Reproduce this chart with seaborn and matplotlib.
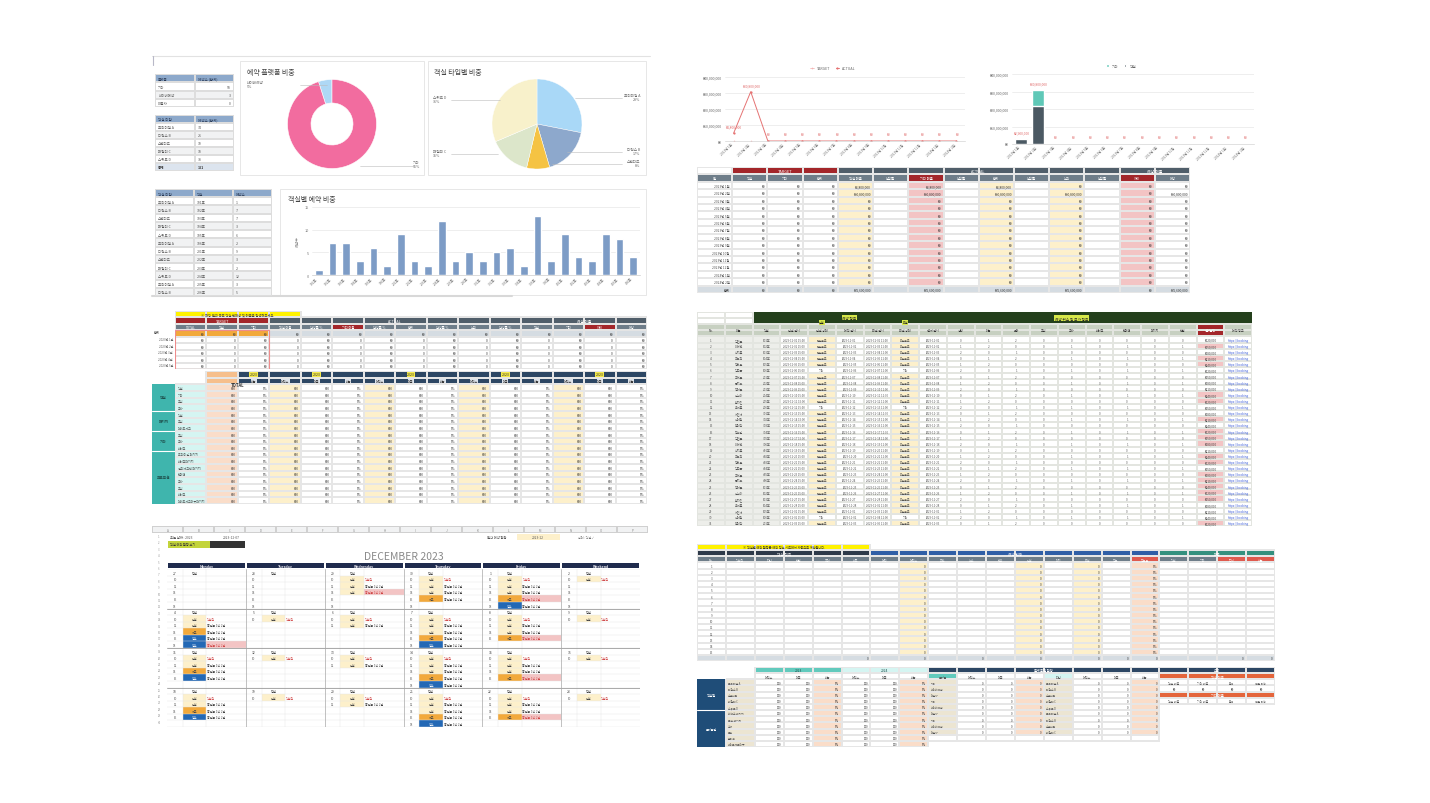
import numpy as np
import matplotlib
matplotlib.use('Agg')
import matplotlib.pyplot as plt
import seaborn as sns
from matplotlib.colors import ListedColormap, to_rgba
from matplotlib.patches import Rectangle

sns.set_theme(style='white')
plt.rcParams['font.family'] = ['Noto Sans CJK KR', 'DejaVu Sans']
plt.rcParams['axes.unicode_minus'] = False

# ---------------- data ----------------
platform_names = ['기타', '네이버예약', '야놀자']
platform_counts = [58, 3, 0]
room_types = ['프리미엄 A', '디럭스 B', '스탠다드', '패밀리 C', '스위트 D']
room_type_counts = [34, 21, 10, 18, 38]
room_names = ['101호', '102호', '103호', '104호', '105호', '106호', '201호', '202호',
              '203호', '204호', '205호', '206호', '301호', '302호', '303호', '304호',
              '305호', '306호', '401호', '402호', '403호', '404호', '405호', '406호']
room_bookings = [1, 7, 7, 3, 6, 2, 9, 3, 2, 12, 3, 5, 3, 5, 6, 2, 13, 3, 9, 4, 3, 9, 8, 4]
months = ['2023년 1월', '2023년 2월', '2023년 3월', '2023년 4월', '2023년 5월', '2023년 6월',
          '2023년 7월', '2023년 8월', '2023년 9월', '2023년 10월', '2023년 11월', '2023년 12월',
          '2024년 1월', '2024년 2월']
target_sales = [0, 0, 0, 0, 0, 0, 0, 0, 0, 0, 0, 0, 0, 0]
actual_sales = [4800000, 30800000, 0, 0, 0, 0, 0, 0, 0, 0, 0, 0, 0, 0]
room_sales = [2900000, 22000000, 0, 0, 0, 0, 0, 0, 0, 0, 0, 0, 0, 0]
other_sales = [0, 8800000, 0, 0, 0, 0, 0, 0, 0, 0, 0, 0, 0, 0]
summary_cols = ['월', '객실', '기타', '합계', '객실 매출', '달성률', '기타 매출', '달성률',
                '합계', '달성률', '누적', '달성률', '차이', '예상']
day_names = ['Monday', 'Tuesday', 'Wednesday', 'Thursday', 'Friday', 'Weekend']
cal_dates = [[27, 28, 29, 30, 1, 2], [4, 5, 6, 7, 8, 9], [11, 12, 13, 14, 15, 16], [18, 19, 20, 21, 22, 23]]
cal_weeks = [['', '', 'ccC', 'ccco', 'cccOb', 'c'],
             ['ccobB', 'c', 'cc', 'cccob', 'cccO', 'c'],
             ['ccob', 'c', 'cc', 'cccob', 'cccO', 'c'],
             ['ccob', 'c', 'cc', 'cccob', 'cccO', 'c']]
guest_names = ['김민준', '이서연', '박지훈', '최유진', '정하은', '강도윤', '조서준', '윤지우',
               '장예준', '임수아', '한지민', '오세훈', '서민재', '신예린', '권태양', '황보람']
pink_rows = [1, 3, 4, 9, 10, 13, 15, 16, 17, 19, 20, 22, 23, 24, 25, 26, 30]
other_rows = [5, 11, 29]

W, H = 1430, 804
fig = plt.figure(figsize=(W / 100, H / 100), dpi=100)
fig.patch.set_facecolor('white')

PAL = {
    'w': '#FFFFFF', 'g1': '#F1F2F3', 'g2': '#D5DCE2', 'hb': '#8DA9CB', 'hbl': '#DCE4EE',
    'red': '#A3262A', 'sl': '#505E6A', 'sl2': '#6E7D89', 'cr': '#FDF0CB', 'pk': '#F3C4C4',
    'pe': '#FADDC9', 'or': '#F2A93B', 'yl': '#FFF200', 'nv': '#2D4764', 'nv2': '#1F2B4D',
    'tl': '#3FB5AD', 'cy': '#D5F5F2', 'to': '#F6BF8C', 'dg': '#24401C', 'gg': '#C7D0C1',
    'lg': '#EDEEEA', 'bl': '#2368B5', 'dk': '#2E3A4A', 'bb': '#2F5EA6', 'tg': '#34907E',
    'rr': '#DF5A4E', 'bg': '#ECE5D2', 'tl2': '#62CABD', 'nv3': '#1F4D78', 'oo': '#E4653B',
    'yg': '#C3D43B', 'bk': '#333333',
}
KEYS = list(PAL.keys())
CMAP = ListedColormap([PAL[k] for k in KEYS])


def rect(x0, y0, x1, y1):
    return [x0 / W, 1 - y1 / H, (x1 - x0) / W, (y1 - y0) / H]


def pxax(x0, y0, x1, y1, z=2):
    ax = fig.add_axes(rect(x0, y0, x1, y1), zorder=z)
    ax.set_xlim(x0, x1)
    ax.set_ylim(-y1, -y0)
    ax.axis('off')
    return ax


bg = pxax(0, 0, W, H, z=0)
top = pxax(0, 0, W, H, z=20)


def T(x, y, s, fs=3, color='#555', ha='left', va='center', **kw):
    top.text(x, -y, s, fontsize=fs, color=color, ha=ha, va=va, **kw)


def box(x0, y0, x1, y1, fc='white', ec='#E3E3E3', lw=0.6):
    bg.add_patch(Rectangle((x0, -y1), x1 - x0, y1 - y0, fc=fc, ec=ec, lw=lw))


def grid(x0, y0, x1, y1, rows, lw=0.35, lc='#DDDDDD', z=2):
    M = np.array([[np.nan if k is None else KEYS.index(k) for k in r] for r in rows], dtype=float)
    ax = fig.add_axes(rect(x0, y0, x1, y1), zorder=z)
    sns.heatmap(M, ax=ax, cmap=CMAP, vmin=-0.5, vmax=len(KEYS) - 0.5, cbar=False,
                linewidths=lw, linecolor=lc, xticklabels=False, yticklabels=False)
    if lw > 0:
        mesh = ax.collections[0]
        ecs = np.tile(np.array(to_rgba(lc)), (M.size, 1))
        ecs[np.isnan(M).ravel()] = (0, 0, 0, 0)
        mesh.set_edgecolor(ecs)
    ax.set_facecolor('none')
    ax.patch.set_alpha(0)
    return ax


def ct(ax, r, c, s, fs=2.5, color='#555', ha='center', span=1, **kw):
    if ha == 'center':
        x = c + span / 2
    elif ha == 'left':
        x = c + 0.08
    else:
        x = c + span - 0.08
    ax.text(x, r + 0.55, s, ha=ha, va='center', fontsize=fs, color=color, **kw)


def won(v):
    return '₩{:,.0f}'.format(v)


# ======================= TOP LEFT DASHBOARD =======================
bg.plot([152, 650], [-57, -57], color='#E2E2E2', lw=0.8)
bg.plot([153, 153], [-57, -66], color='#B8B8C8', lw=0.8)
bg.plot([152, 512], [-297, -297], color='#D8D8D8', lw=1.5)

t1 = grid(155, 75, 234, 108, [['hb', 'hb'], ['w', 'w'], ['g1', 'g1'], ['w', 'w']])
ct(t1, 0, 0, '플랫폼', color='#2A3A55', ha='left')
ct(t1, 0, 1, '예약수 (합계)', color='#2A3A55', ha='left')
for i, (n, v) in enumerate(zip(platform_names, platform_counts)):
    ct(t1, i + 1, 0, n, ha='left')
    ct(t1, i + 1, 1, str(v), ha='right')

rows2 = [['hb', 'hb']] + [['w', 'w'] if i % 2 == 0 else ['g1', 'g1'] for i in range(5)] + [['hbl', 'hbl']]
t2 = grid(155, 116, 234, 172, rows2)
ct(t2, 0, 0, '객실 타입', color='#2A3A55', ha='left')
ct(t2, 0, 1, '예약수 (합계)', color='#2A3A55', ha='left')
for i, (n, v) in enumerate(zip(room_types, room_type_counts)):
    ct(t2, i + 1, 0, n, ha='left')
    ct(t2, i + 1, 1, str(v), ha='left')
ct(t2, 6, 0, '총계', ha='left', color='#333', fontweight='bold')
ct(t2, 6, 1, str(sum(room_type_counts)), ha='left', color='#333', fontweight='bold')

rows3 = [['hb'] * 3] + [['w'] * 3 if i % 2 == 0 else ['g1'] * 3 for i in range(12)]
t3 = grid(155, 190, 272, 297, rows3)
for j, s in enumerate(['객실 타입', '객실', '예약수']):
    ct(t3, 0, j, s, color='#2A3A55', ha='left')
for i in range(12):
    ct(t3, i + 1, 0, room_types[i % 5], ha='left')
    ct(t3, i + 1, 1, room_names[i], ha='left')
    ct(t3, i + 1, 2, str(room_bookings[i]), ha='left')

# donut
box(240, 62, 424, 176)
T(247, 73, '예약 플랫폼 비중', fs=5, color='#444')
dn = pxax(240, 62, 424, 176, z=3)
dn.pie(platform_counts[:2][::-1], colors=['#AED8F5', '#F26C9F'], startangle=90, counterclock=True,
       center=(332, -125), radius=44.5, wedgeprops=dict(width=23.5, edgecolor='white', linewidth=0.4))
dn.set_xlim(240, 424)
dn.set_ylim(-176, -62)
dn.set_aspect('auto')
dn.plot([300, 327], [-86, -86], color='#BBBBBB', lw=0.4)
dn.text(247, -85, '네이버예약\n5%', fontsize=2.6, color='#666', va='center')
dn.plot([360, 413], [-167, -167], color='#BBBBBB', lw=0.4)
dn.text(420, -165, '기타\n95%', fontsize=2.6, color='#666', va='center', ha='right')

# pie
box(428, 62, 646, 176)
T(434, 73, '객실 타입별 비중', fs=5, color='#444')
pi = pxax(428, 62, 646, 176, z=3)
pie_colors = ['#A9D8F7', '#8DA8CC', '#F5C343', '#DCE6CA', '#F8F1CB']
pi.pie(room_type_counts, colors=pie_colors, startangle=90, counterclock=False,
       center=(537, -125), radius=45, wedgeprops=dict(edgecolor='white', linewidth=0.3))
pi.set_xlim(428, 646)
pi.set_ylim(-176, -62)
pi.set_aspect('auto')
shares = [c / sum(room_type_counts) * 100 for c in room_type_counts]
pie_lab = [(640, 98, 'right', 575), (640, 152, 'right', 567), (640, 164, 'right', 552),
           (433, 154, 'left', 498), (433, 100, 'left', 500)]
for (lx, ly, ha, ex), n, s in zip(pie_lab, room_types, shares):
    pi.text(lx, -ly, f'{n}\n{s:.0f}%', fontsize=2.6, color='#666', va='center', ha=ha)
    if ha == 'right':
        pi.plot([ex, lx - 18], [-ly - 1, -ly - 1], color='#BBBBBB', lw=0.4)
    else:
        pi.plot([lx + 18, ex], [-ly - 1, -ly - 1], color='#BBBBBB', lw=0.4)

# bar chart
box(280, 190, 646, 296)
T(288, 200, '객실별 예약 비중', fs=5, color='#444')
axb = fig.add_axes(rect(312, 208, 640, 276), zorder=3)
sns.barplot(x=room_names, y=room_bookings, color='#7D9CC6', width=0.55, saturation=1, ax=axb)
axb.set_ylim(0, 15)
axb.set_yticks([0, 5, 10, 15])
axb.tick_params(axis='y', labelsize=2.8, colors='#777', length=0, pad=2)
axb.tick_params(axis='x', labelsize=2.4, colors='#777', length=0, pad=1)
for lb in axb.get_xticklabels():
    lb.set_rotation(45)
    lb.set_ha('right')
axb.yaxis.grid(True, color='#E8E8E8', lw=0.5)
axb.set_axisbelow(True)
for sp in ['top', 'right', 'left']:
    axb.spines[sp].set_visible(False)
axb.spines['bottom'].set_color('#CCCCCC')
axb.spines['bottom'].set_linewidth(0.5)
axb.set_ylabel('예약수', fontsize=2.8, color='#777', labelpad=4)
axb.set_xlabel('')
axb.patch.set_alpha(0)

# ======================= TOP RIGHT CHARTS =======================
xs = np.arange(len(months))
red_lab = '#E06B6B'


def money_axis(ax):
    ax.set_ylim(0, 40000000)
    ax.set_yticks([0, 10000000, 20000000, 30000000, 40000000])
    ax.set_yticklabels([won(v) for v in [0, 10000000, 20000000, 30000000, 40000000]])
    ax.set_xlim(-0.5, len(months) - 0.5)
    ax.set_xticks(xs)
    ax.set_xticklabels(months)
    ax.tick_params(axis='y', labelsize=2.6, colors='#666', length=0, pad=3)
    ax.tick_params(axis='x', labelsize=2.3, colors='#777', length=0, pad=1)
    for lb in ax.get_xticklabels():
        lb.set_rotation(45)
        lb.set_ha('right')
    ax.yaxis.grid(True, color='#E8E8E8', lw=0.5)
    ax.set_axisbelow(True)
    for sp in ['top', 'right', 'left']:
        ax.spines[sp].set_visible(False)
    ax.spines['bottom'].set_color('#D5D5D5')
    ax.spines['bottom'].set_linewidth(0.5)
    ax.set_xlabel('')
    ax.set_ylabel('')
    ax.patch.set_alpha(0)


axl = fig.add_axes(rect(725, 78, 965, 142), zorder=3)
sns.lineplot(x=xs, y=target_sales, ax=axl, color='#F3B2B2', lw=0.5, label='TARGET',
             marker='o', markersize=1.2, markeredgewidth=0)
sns.lineplot(x=xs, y=actual_sales, ax=axl, color='#E57373', lw=0.7, label='ACTUAL',
             marker='o', markersize=1.6, markeredgewidth=0)
money_axis(axl)
for i, v in enumerate(actual_sales):
    axl.annotate(won(v), (i, v), xytext=(0, 4), textcoords='offset points', ha='center',
                 fontsize=2.4, color=red_lab)
axl.legend(loc='lower center', bbox_to_anchor=(0.45, 1.06), ncol=2, fontsize=2.6, frameon=False,
           handlelength=1.0, columnspacing=1.5, labelcolor='#666')

axs = fig.add_axes(rect(1012, 75, 1254, 145), zorder=3)
total_sales = [a + b for a, b in zip(room_sales, other_sales)]
sns.barplot(x=xs, y=total_sales, color='#5FC8B7', width=0.7, saturation=1, ax=axs, label='기타')
sns.barplot(x=xs, y=room_sales, color='#4B5963', width=0.7, saturation=1, ax=axs, label='객실')
money_axis(axs)
for i, v in enumerate(total_sales):
    axs.annotate(won(v), (i, v), xytext=(0, 4), textcoords='offset points', ha='center',
                 fontsize=2.4, color=red_lab)
axs.legend(loc='lower center', bbox_to_anchor=(0.45, 1.04), ncol=2, fontsize=2.6, frameon=False,
           handlelength=0.8, handleheight=0.8, columnspacing=1.5, labelcolor='#666')

# summary table B
rowsB = [['w'] + ['red'] * 3 + ['sl'] * 10,
         ['sl2'] * 6 + ['red'] + ['sl2'] * 5 + ['red', 'sl2']]
for i in range(14):
    r = ['w'] * 14
    for c in (4, 8, 10):
        r[c] = 'cr'
    for c in (6, 12):
        r[c] = 'pk'
    rowsB.append(r)
rowsB.append(['g2'] * 14)
tb = grid(697, 168, 1190, 294, rowsB, lc='#E6E6E6')
ct(tb, 0, 1, 'TARGET', span=3, color='white', fs=2.8)
ct(tb, 0, 4, 'ACTUAL', span=8, color='white', fs=2.8)
ct(tb, 0, 12, '예상 매출', span=2, color='white', fs=2.8)
for j, s in enumerate(summary_cols):
    ct(tb, 1, j, s, color='white', fs=2.4)
for i, m in enumerate(months):
    ct(tb, i + 2, 0, m, ha='right', fs=2.3)
    for j in range(1, 14):
        v = '₩0'
        if i == 0 and j in (4, 6, 8):
            v = won(actual_sales[0])
        if i == 1 and j in (4, 6, 8, 10, 13):
            v = won(actual_sales[1])
        if j in (5, 7, 9, 11):
            v = ''
        ct(tb, i + 2, j, v, ha='right', fs=2.3, color='#333')
ct(tb, 16, 0, '합계', ha='right', fs=2.4, color='#333')
for j in (1, 2, 3, 12):
    ct(tb, 16, j, '₩0', ha='right', fs=2.3, color='#333')
for j in (4, 6, 8, 10, 13):
    ct(tb, 16, j, won(sum(actual_sales)), ha='right', fs=2.3, color='#333')

# ======================= MIDDLE LEFT TABLE =======================
rowsC1 = [['yl'] * 4 + [None] * 11,
          ['red'] * 3 + ['sl'] * 12,
          ['sl2'] * 5 + ['red'] + ['sl2'] * 7 + ['red', 'sl2'],
          ['or'] * 3 + ['g2'] * 12]
for i in range(5):
    rowsC1.append(['w'] * 15)
c1 = grid(175, 312, 647, 370, rowsC1, lc='#E4E4E4')
c1.add_patch(Rectangle((0, 3), 3, 6, fill=False, ec='#EE8C8C', lw=0.8))
ct(c1, 0, 0, '※ 해당 월의 목표 객실 판매량 및 매출을 입력해주세요.', span=4, fs=2.4, color='#444')
ct(c1, 1, 0, 'TARGET', span=3, color='white', fs=2.6)
ct(c1, 1, 3, 'ACTUAL', span=8, color='white', fs=2.6)
ct(c1, 1, 11, '예상 매출', span=4, color='white', fs=2.6)
for j, s in enumerate(['TOTAL', '객실', '기타', '객실 매출', '달성률 %', '기타 매출', '달성률 %', '합계',
                       '달성률 %', '누적', '달성률 %', '객실', '기타', '차이', '예상']):
    ct(c1, 2, j, s, color='white', fs=2.3)
for j in range(15):
    ct(c1, 3, j, '₩0', ha='right', fs=2.3, color='#333')
    for i in range(5):
        ct(c1, 4 + i, j, '₩0' if j % 2 == 0 else '0', ha='right', fs=2.3, color='#333')
T(154, 333.5, '합계', fs=2.4, color='#444')
for i, m in enumerate(months[:5]):
    T(173, 340.5 + i * 6.45, m, fs=2.2, color='#666', ha='right')

rowsC2 = [[None, 'to'] + ['nv'] * 13, [None, 'to'] + ['nv'] * 13]
for i in range(18):
    r = ['cy', 'pe', 'w'] + ['w'] * 12
    for c in (3, 6, 9, 12):
        r[c] = 'cr'
    rowsC2.append(r)
c2 = grid(175, 372, 647, 505, rowsC2, lc='#E6E6E6')
c2.text(2.0, 2.0, 'TOTAL', ha='center', va='center', fontsize=3, color='#333', fontweight='bold')
for c in (2, 4, 7, 10, 13):
    c2.text(c + 0.5, 0.5, '2023', ha='center', va='center', fontsize=2.6, color='#333',
            bbox=dict(boxstyle='square,pad=0.15', fc='#F4E94B', ec='none'))
for c in range(2, 15):
    c2.text(c + 0.5, 1.5, ['예약수', '매출', '비중'][c % 3], ha='center', va='center', fontsize=2.2,
            color='#333', bbox=dict(boxstyle='square,pad=0.1', fc='#DDE3EA', ec='none'))
c2_items = ['객실', '기타', '조식', '주차', '객실', '조식', '레이트체크', '조식', '주차', '바베큐',
            '프리미엄 패키지', '바베큐패키지', '얼리체크인 패키지', '반려견', '주차', '조식', '바베큐',
            '레이트체크아웃패키지']
for i, s in enumerate(c2_items):
    ct(c2, i + 2, 0, s, ha='left', fs=2.2)
    for j in range(1, 15):
        ct(c2, i + 2, j, '000' if j % 3 != 2 else '0%', ha='right', fs=2.2, color='#333')
tl = grid(152, 385, 175, 505, [['tl']], lw=0)
for b in (4, 7, 10):
    tl.axhline(b / 18, color='white', lw=0.8)
for (a, b), s in zip([(0, 4), (4, 7), (7, 10), (10, 18)], ['객실', '패키지', '기타', '프로모션']):
    tl.text(0.5, (a + b) / 36, s, ha='center', va='center', fontsize=2.6, color='#1E4E4B',
            fontweight='bold')

# ======================= MIDDLE RIGHT TABLE =======================
nD = 20
rowsD = [['w', 'w'] + [None] * 18, ['w', 'w'] + [None] * 18,
         ['gg'] * 18 + ['red', 'gg'], ['gg'] * 18 + ['red', 'gg']]
for i in range(31):
    r = ['lg'] * 3 + ['w'] * 17
    if i not in other_rows:
        r[4] = 'cr'
        r[7] = 'cr'
    if i in pink_rows:
        r[18] = 'pk'
    rowsD.append(r)
rowD_h = (527 - 313) / len(rowsD)
colD_w = (1252 - 697) / nD
grid(697 + 2 * colD_w, 313, 1252, 313 + 2 * rowD_h, [['dg']], lw=0, z=1)
dT = grid(697, 313, 1252, 527, rowsD, lc='#E3E5E0')
dT.text(5.5, 0.9, '예약 정보', ha='center', va='center', fontsize=2.6, color='#222',
        bbox=dict(boxstyle='square,pad=0.2', fc='#D7E84A', ec='none'))
dT.text(4.5, 1.7, '입실', ha='center', va='center', fontsize=2.2, color='#222',
        bbox=dict(boxstyle='square,pad=0.15', fc='#D7E84A', ec='none'))
dT.text(7.5, 1.7, '퇴실', ha='center', va='center', fontsize=2.2, color='#222',
        bbox=dict(boxstyle='square,pad=0.15', fc='#D7E84A', ec='none'))
dT.text(13.5, 1.0, '예약 취소 및 부가 정보', ha='center', va='center', fontsize=2.6, color='#222',
        bbox=dict(boxstyle='square,pad=0.2', fc='#D7E84A', ec='none'))
d_hdr = ['No.', '이름', '객실', '입실 일시', '입실 상태', '예약 일시', '퇴실 일시', '퇴실 상태',
         '결제 일시', '성인', '아동', '유아', '조식', '주차', '바베큐', '반려견', '패키지', '인원',
         '결제금액', '예약 링크']
for j, s in enumerate(d_hdr):
    dT.text(j + 0.5, 3.0, s, ha='center', va='center', fontsize=2.2,
            color='white' if j == 18 else '#333')
for i in range(31):
    r = i + 4
    ct(dT, r, 0, str(i + 1), fs=2.2)
    ct(dT, r, 1, guest_names[i % len(guest_names)], fs=2.2)
    ct(dT, r, 2, room_names[i % 24], fs=2.2)
    ct(dT, r, 3, f'2023-12-{(i % 28) + 1:02d} 15:00', fs=2.0)
    ct(dT, r, 4, '기타' if i in other_rows else '입실완료', fs=2.1)
    ct(dT, r, 5, f'2023-11-{(i % 28) + 1:02d}', fs=2.0)
    ct(dT, r, 6, f'2023-12-{(i % 27) + 2:02d} 11:00', fs=2.0)
    ct(dT, r, 7, '기타' if i in other_rows else '퇴실완료', fs=2.1)
    ct(dT, r, 8, f'2023-11-{(i % 28) + 1:02d}', fs=2.0)
    for j in range(9, 18):
        ct(dT, r, j, str((i + j) % 3 if j < 12 else (i * j) % 2), fs=2.1)
    ct(dT, r, 18, '₩' + format(120000 + (i % 5) * 30000, ','), fs=2.1, color='#333')
    ct(dT, r, 19, 'https://booking', fs=2.1, color='#3A5BD9')

# ======================= BOTTOM LEFT CALENDAR =======================
strip = grid(152, 527, 648, 534, [['g1'] * 16], lc='#D0D0D0')
for j in range(16):
    ct(strip, 0, j, 'ABCDEFGHIJKLMNOP'[j], fs=2.2, color='#888')
T(170, 538, '오늘 날짜 : 2023', fs=2.4, color='#555')
T(223, 538, '2023-12-07', fs=2.4, color='#555')
T(487, 538, '월간 예약 현황', fs=2.4, color='#555')
grid(517, 535, 560, 541, [['cr']], lw=0)
T(538, 538, '2023-12', fs=2.3, color='#555', ha='center')
T(578, 538, '범례 : 객실 ✓', fs=2.2, color='#777')
grid(168, 542, 210, 549, [['yg']], lw=0)
grid(210, 542, 245, 549, [['bk']], lw=0)
T(170, 545.5, '객실 예약 현황 보기', fs=2.3, color='#333')
T(404, 557, 'DECEMBER 2023', fs=7.5, color='#8A8A8A', ha='center')
hdr = grid(167, 563, 640, 570, [['nv2'] * 6], lw=0.3, lc='#FFFFFF')
for j, d in enumerate(day_names):
    ct(hdr, 0, j, d, fs=2.6, color='#E8E8F0', fontweight='bold')

type_col = {'c': 'cr', 'o': 'or', 'b': 'bl'}
type_txt = {'c': '입실', 'o': '체크', 'b': '청소'}
rowsE = []
for w in range(4):
    rowsE.append(['w'] * 60)
    for k in range(5):
        r = []
        for d in range(6):
            items = cal_weeks[w][d]
            cell = ['w'] * 10
            if k < len(items):
                ch = items[k]
                for s in (2, 3, 4):
                    cell[s] = type_col[ch.lower()]
                if ch.isupper():
                    for s in range(5, 10):
                        cell[s] = 'pk'
            r += cell
        rowsE.append(r)
cal = grid(167, 570, 640, 728, rowsE, lw=0)
for r in range(25):
    cal.axhline(r, color='#E4E4E4', lw=0.3, zorder=1)
for d in range(6):
    for s in (2, 5):
        cal.axvline(d * 10 + s, color='#E4E4E4', lw=0.3, zorder=1)
for w in range(1, 4):
    cal.axhline(w * 6, color='#9C9C9C', lw=0.6)
for d in range(1, 6):
    cal.axvline(d * 10, color='#A8A8A8', lw=0.5)
cal.axhline(24, color='#9C9C9C', lw=0.6)
for w in range(4):
    base = w * 6
    for d in range(6):
        ct(cal, base, d * 10, str(cal_dates[w][d]), span=2, fs=2.4, color='#444')
        ct(cal, base, d * 10 + 2, '입실', span=3, fs=2.3, color='#444')
        items = cal_weeks[w][d]
        for k in range(5):
            rr = base + 1 + k
            if k < len(items) or w == 0:
                ct(cal, rr, d * 10, str(10 + k * 2), span=2, fs=2.2, color='#666')
            if k < len(items):
                ch = items[k].lower()
                ct(cal, rr, d * 10 + 2, type_txt[ch], span=3, fs=2.2,
                   color='white' if ch == 'b' else '#444')
                ct(cal, rr, d * 10 + 5, '객실명' if k == 0 else '홍길동 1박 2일', ha='left', fs=2.2,
                   color='#D04848' if k == 0 or items[k].isupper() else '#444')
for i in range(30):
    T(159, 537 + i * 6.4, str(i + 1), fs=2.0, color='#999', ha='center')

# ======================= BOTTOM RIGHT TABLES =======================
rowsF = [['yl'] * 6 + [None] * 14,
         ['dk'] * 6 + ['bb'] * 10 + ['tg'] * 4,
         ['sl2'] * 15 + ['rr', 'sl2', 'sl2', 'rr', 'rr']]
for i in range(15):
    r = ['w'] * 20
    for c in (7, 11, 13):
        r[c] = 'cr'
    r[15] = 'pe'
    rowsF.append(r)
rowsF.append(['g2'] * 20)
fT = grid(697, 545, 1275, 662, rowsF, lc='#E6E6E6')
ct(fT, 0, 0, '※ 객실별 예약 현황은 예약 정보 시트에서 자동으로 계산됩니다.', span=6, fs=2.3, color='#333')
ct(fT, 1, 0, '객실 정보', span=6, fs=2.6, color='white')
ct(fT, 1, 6, '예약 현황', span=10, fs=2.6, color='white')
ct(fT, 1, 16, '매출', span=4, fs=2.6, color='white')
f_hdr = ['No.', '객실명', '타입', '인원', '최대', '비고', '예약', '예약수', '취소', '노쇼', '연박',
         '입실', '대기', '퇴실', '점유', '점유율', '객실', '기타', '합계', '비중']
for j, s in enumerate(f_hdr):
    ct(fT, 2, j, s, fs=2.2, color='white')
for i in range(15):
    ct(fT, 3 + i, 0, str(i + 1), fs=2.2)
    for j in (7, 11, 13, 15):
        ct(fT, 3 + i, j, '0' if j != 15 else '0%', ha='right', fs=2.2, color='#333')
for j in (5, 7, 9, 11, 13, 14, 15, 18, 19):
    ct(fT, 18, j, '0', ha='right', fs=2.2, color='#333')

data_row = [None, 'bg', 'w', 'w', 'pe', 'w', 'w', 'pe', 'bg', 'w', 'w', 'pe', 'bg', 'w', 'w', 'pe']
rowsF2 = [[None, None] + ['tl2'] * 3 + ['cy'] * 3 + ['nv'] * 12,
          [None, None] + ['w'] * 6 + ['tl2', 'w', 'w', 'w', 'cy', 'w', 'w', 'w'] + ['oo'] * 4,
          data_row + ['w'] * 4, data_row + ['w'] * 4, data_row + ['oo'] * 4, data_row + ['w'] * 4]
for i in range(6, 11):
    rowsF2.append(data_row + [None] * 4)
rowsF2.append([None, 'bg', 'w', 'w', 'pe', 'w', 'w', 'pe'] + ['w'] * 8 + [None] * 4)
rowsF2.append([None, 'bg', 'w', 'w', 'pe', 'w', 'w', 'pe'] + [None] * 12)
rowF2_h = (748 - 668) / len(rowsF2)
navc = grid(697, 668 + 2 * rowF2_h, 697 + (1275 - 697) / 20, 748, [['nv3']], lw=0, z=1)
navc.axhline(5 / 11, color='white', lw=0.8)
navc.text(0.5, 2.5 / 11, '객실별', ha='center', va='center', fontsize=2.4, color='white')
navc.text(0.5, 8.0 / 11, '플랫폼별', ha='center', va='center', fontsize=2.2, color='white')
f2 = grid(697, 668, 1275, 748, rowsF2, lc='#E6E6E6')
ct(f2, 0, 2, '2023', span=3, fs=2.4, color='#1F4E4B')
ct(f2, 0, 5, '2024', span=3, fs=2.4, color='#1F4E4B')
ct(f2, 0, 8, '플랫폼별 현황', span=8, fs=2.4, color='white')
ct(f2, 0, 16, '요약', span=4, fs=2.4, color='white')
for j, s in zip(range(2, 8), ['예약수', '매출', '비중', '예약수', '매출', '비중']):
    ct(f2, 1, j, s, fs=2.2)
ct(f2, 1, 8, '플랫폼', fs=2.2)
ct(f2, 1, 12, '타입', fs=2.2)
for j, s in zip((9, 10, 11, 13, 14, 15), ['예약수', '매출', '비중', '예약수', '매출', '비중']):
    ct(f2, 1, j, s, fs=2.2)
ct(f2, 1, 16, '객실 매출', span=4, fs=2.4, color='white')
ct(f2, 4, 16, '기타 매출', span=4, fs=2.4, color='white')
for j, s in zip(range(16, 20), ['객실 매출', '기타 매출', '합계', '전월 대비']):
    ct(f2, 2, j, s, fs=2.1)
    ct(f2, 5, j, s, fs=2.1)
    ct(f2, 3, j, '₩0', fs=2.1, color='#333')
f2_items = room_types + ['바베큐 패키지', '조식 패키지', '주차', '조식', '반려견', '레이트체크아웃']
for i in range(11):
    ct(f2, 2 + i, 1, f2_items[i], ha='left', fs=2.0)
    for j in range(2, 8):
        ct(f2, 2 + i, j, '000' if j % 3 != 1 else '0%', ha='right', fs=2.0, color='#333')
for i in range(9):
    ct(f2, 2 + i, 8, platform_names[i % 3], ha='left', fs=2.0)
    ct(f2, 2 + i, 12, room_types[i % 5], ha='left', fs=2.0)
    for j in (9, 10, 11, 13, 14, 15):
        ct(f2, 2 + i, j, '0', ha='right', fs=2.0, color='#333')

fig.savefig('out.png', dpi=100)
